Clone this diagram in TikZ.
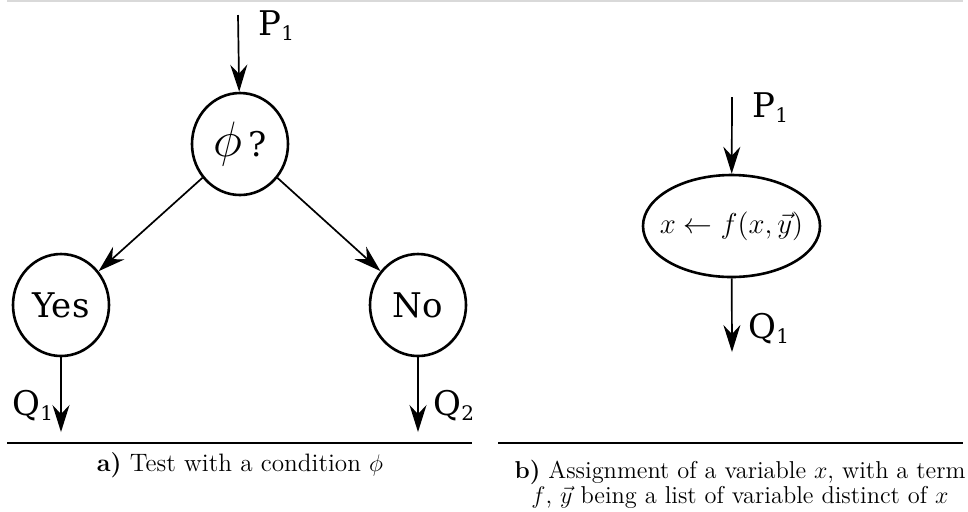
\documentclass[tikz,border=0pt]{standalone}
\usepackage{fontspec}
\usetikzlibrary{arrows.meta,shapes.geometric}
\newfontfamily\dejavu{DejaVu Serif}
\newcommand{\flowlbl}[2]{#1\raisebox{-2.5pt}{\fontsize{10}{10}\selectfont #2}}

\tikzset{
  flow/.style={line width=0.85pt,-{Stealth[length=13.5pt,width=8.5pt,inset=4.5pt]}},
  test/.style={draw,ellipse,line width=1.3pt,inner sep=0pt,minimum width=48pt,minimum height=51pt,font=\dejavu\fontsize{17}{17}\selectfont},
  assign/.style={draw,ellipse,line width=1.3pt,inner sep=0pt,minimum width=88.5pt,minimum height=51pt},
  lbl/.style={inner sep=0pt,anchor=base west,font=\dejavu\fontsize{17}{17}\selectfont},
  caption/.style={inner sep=0pt,font=\fontsize{12.6}{13}\selectfont}
}

\begin{document}
\begin{tikzpicture}[x=0.5pt,y=-0.5pt]
  \useasboundingbox (0,0) rectangle (968,511);
  \draw[gray!30,line width=0.75pt] (7,0.75) -- (963,0.75);

  \coordinate (inA) at (238,15);
  \node[test] (cond) at (240,144) {{\fontsize{23}{23}\selectfont$\phi$}\,?};
  \node[test] (yes) at (61,305) {Yes};
  \node[test] (no) at (418,305) {No};
  \coordinate (outY) at (61,432);
  \coordinate (outN) at (418,432);
  \draw[flow] (inA) -- (cond);
  \draw[flow] (cond) -- (yes);
  \draw[flow] (cond) -- (no);
  \draw[flow] (yes) -- (outY);
  \draw[flow] (no) -- (outN);
  \node[lbl] (pA) at (258,35) {\flowlbl{P}{1}};
  \node[lbl] (qY) at (12,415) {\flowlbl{Q}{1}};
  \node[lbl] (qN) at (433,415) {\flowlbl{Q}{2}};
  \draw[line width=0.7pt] (7,443) -- (472,443);
  \node[caption,anchor=base] (capA) at (240,471) {\textbf{a)} Test with a condition $\phi$};

  \coordinate (inB) at (732,97);
  \node[assign,label={[font=\fontsize{14}{14}\selectfont]center:$x \leftarrow f(x,\vec{y})$}] (asg) at (731.5,226) {};
  \coordinate (outB) at (732,352);
  \draw[flow] (inB) -- (asg);
  \draw[flow] (asg) -- (outB);
  \node[lbl] (pB) at (752,117) {\flowlbl{P}{1}};
  \node[lbl] (qB) at (748,338) {\flowlbl{Q}{1}};
  \draw[line width=0.7pt] (498,443) -- (963,443);
  \node[caption,font=\fontsize{12.2}{12.4}\selectfont,align=center] (capB) at (740,484) {\textbf{b)} Assignment of a variable $x$, with a term\\ $f$, $\vec{y}$ being a list of variable distinct of $x$};
\end{tikzpicture}
\end{document}
